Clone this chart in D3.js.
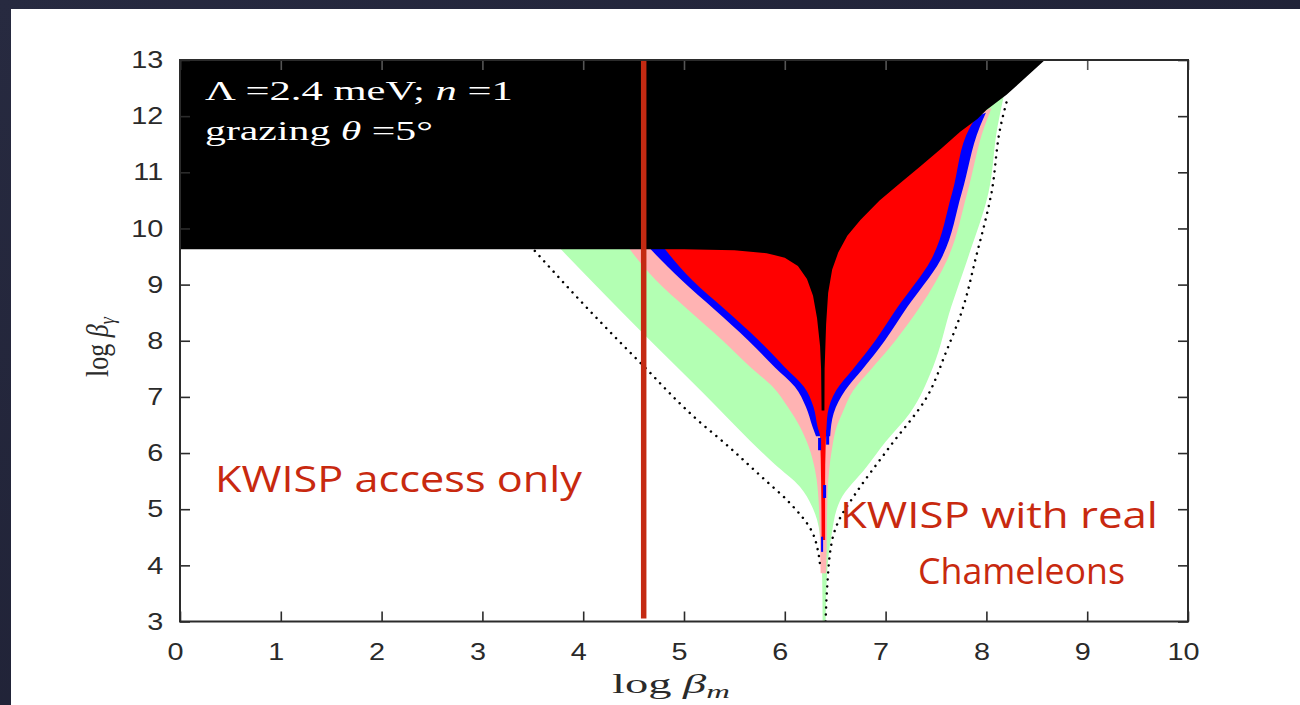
<!DOCTYPE html>
<html>
<head>
<meta charset="utf-8">
<script src="https://cdn.jsdelivr.net/npm/d3@7"></script>
<style>
  html, body { margin: 0; padding: 0; background: #1f2136; }
  svg { display: block; }
</style>
</head>
<body>
<svg id="chart" width="1300" height="705"></svg>
<script>
// Axis ticks
const xTicks = [0, 1, 2, 3, 4, 5, 6, 7, 8, 9, 10];
const yTicks = [3, 4, 5, 6, 7, 8, 9, 10, 11, 12, 13];

// Excluded regions in the (log beta_m, log beta_gamma) plane.
// Each band: left edge listed top -> bottom, right edge listed bottom -> top.
const greenLeft  = [[3.74, 9.7], [4.56, 8.19], [5.2, 7.05], [5.65, 6.23], [5.9, 5.8], [6.15, 5.4], [6.27, 5.05], [6.32, 4.81], [6.36, 4.3], [6.37, 3.86], [6.375, 3.0]];
const greenRight = [[6.405, 3.0], [6.42, 3.86], [6.46, 4.5], [6.55, 5.16], [6.81, 5.75], [7.0, 6.2], [7.24, 6.71], [7.47, 7.53], [7.65, 8.6], [7.81, 9.44], [8.02, 10.63], [8.11, 11.81], [8.17, 12.34]];

const pinkLeft  = [[4.43, 9.7], [4.72, 9.08], [5.04, 8.55], [5.38, 8.01], [5.66, 7.53], [5.88, 7.18], [6.03, 6.82], [6.15, 6.47], [6.24, 6.1], [6.30, 5.7], [6.34, 5.0], [6.35, 4.3], [6.355, 3.86]];
const pinkRight = [[6.41, 3.86], [6.415, 4.3], [6.42, 5.0], [6.44, 5.7], [6.47, 6.1], [6.52, 6.5], [6.57, 6.71], [6.68, 7.12], [6.85, 7.48], [7.1, 8.01], [7.34, 8.6], [7.61, 9.44], [7.81, 10.63], [7.98, 11.81], [8.05, 12.14]];

const blueLeft  = [[4.63, 9.7], [4.975, 9.08], [5.305, 8.55], [5.635, 8.01], [5.9, 7.53], [6.1, 7.18], [6.21, 6.82], [6.275, 6.47], [6.31, 6.3]];
const blueRight = [[6.45, 6.3], [6.485, 6.71], [6.6, 7.12], [6.765, 7.48], [6.995, 8.01], [7.215, 8.6], [7.545, 9.44], [7.755, 10.63], [7.935, 11.81], [7.995, 12.06]];

const redLeft  = [[4.78, 9.7], [5.08, 9.08], [5.41, 8.55], [5.74, 8.01], [6.0, 7.53], [6.19, 7.18], [6.285, 6.82], [6.325, 6.47], [6.35, 6.3], [6.36, 5.5], [6.365, 4.45]];
const redRight = [[6.40, 4.45], [6.40, 5.5], [6.405, 6.1], [6.415, 6.5], [6.425, 6.71], [6.51, 7.12], [6.67, 7.48], [6.9, 8.01], [7.12, 8.6], [7.45, 9.44], [7.66, 10.63], [7.84, 11.81], [7.92, 12.02]];

// Short blue segments along the narrow neck: [x0, x1, y0, y1]
const blueDashes = [[6.33, 6.36, 6.05, 6.27], [6.41, 6.44, 6.15, 6.41], [6.38, 6.41, 5.2, 5.43], [6.36, 6.38, 4.24, 4.51]];

// Fully excluded (black) region, with the narrow spike between the two red lobes
const blackRegion = [
  [0, 13], [8.58, 13], [8.2, 12.38], [8.0, 12.11], [7.91, 11.95],
  [7.74, 11.72], [7.55, 11.42], [7.34, 11.1], [7.14, 10.8], [6.94, 10.5],
  [6.75, 10.15], [6.62, 9.87], [6.53, 9.57], [6.47, 9.27], [6.43, 8.85],
  [6.41, 8.3], [6.395, 7.5], [6.393, 6.76], [6.365, 6.76], [6.36, 7.5],
  [6.35, 7.9], [6.32, 8.4], [6.28, 8.8], [6.22, 9.1], [6.13, 9.33],
  [6.0, 9.48], [5.82, 9.56], [5.5, 9.61], [5.0, 9.63], [0, 9.63]
];

// Dotted reference curves
const dotLeft  = [[3.52, 9.6], [4.03, 8.6], [4.56, 7.62], [5.19, 6.5], [5.33, 6.29], [5.78, 5.56], [6.05, 5.11], [6.27, 4.6], [6.33, 4.25], [6.35, 4.0]];
const dotRight = [[6.405, 3.0], [6.42, 3.6], [6.47, 4.45], [6.55, 4.85], [6.68, 5.22], [7.04, 6.11], [7.41, 7.0], [7.6, 7.8], [7.77, 8.6], [7.89, 9.44], [8.05, 10.63], [8.14, 11.81], [8.21, 12.32]];

// KWISP reach
const kwispLimit = 4.6;

// ---- layout ----
const svg = d3.select("#chart");
const W = 1300, H = 705;
const plot = { left: 180, right: 1188, top: 60, bottom: 621.5 };
const x = d3.scaleLinear().domain([0, 10]).range([plot.left, plot.right]);
const y = d3.scaleLinear().domain([3, 13]).range([plot.bottom, plot.top]);
const sx = 1.2; // horizontal text stretch

// backdrop
const defs = svg.append("defs");
const grad = defs.append("linearGradient").attr("id", "bg").attr("x1", 0).attr("y1", 0).attr("x2", 1).attr("y2", 1);
grad.append("stop").attr("offset", "0%").attr("stop-color", "#272a40");
grad.append("stop").attr("offset", "100%").attr("stop-color", "#1b1d30");
svg.append("rect").attr("width", W).attr("height", H).attr("fill", "url(#bg)");
svg.append("rect").attr("x", 11).attr("y", 9).attr("width", W - 11).attr("height", H - 9).attr("fill", "#ffffff");

defs.append("clipPath").attr("id", "plotClip")
  .append("rect").attr("x", plot.left).attr("y", plot.top)
  .attr("width", plot.right - plot.left).attr("height", plot.bottom - plot.top);

const g = svg.append("g").attr("clip-path", "url(#plotClip)");
const line = d3.line().x(d => x(d[0])).y(d => y(d[1]));
const edge = d3.line().x(d => x(d[0])).y(d => y(d[1])).curve(d3.curveMonotoneY);
const band = (left, right) => edge(left) + "L" + edge(right).slice(1) + "Z";

g.append("path").attr("d", band(greenLeft, greenRight)).attr("fill", "#b3ffb3");
g.append("path").attr("d", band(pinkLeft, pinkRight)).attr("fill", "#ffb3b3");
g.append("path").attr("d", band(blueLeft, blueRight)).attr("fill", "#0000ff");
g.append("path").attr("d", band(redLeft, redRight)).attr("fill", "#ff0000");
g.selectAll("rect.dash").data(blueDashes).join("rect").attr("class", "dash")
  .attr("x", d => x(d[0])).attr("width", d => x(d[1]) - x(d[0]))
  .attr("y", d => y(d[3])).attr("height", d => y(d[2]) - y(d[3]))
  .attr("fill", "#0000ff");
g.append("path").attr("d", line(blackRegion) + "Z").attr("fill", "#000000");

// dotted curves
[dotLeft, dotRight].forEach(pts => {
  g.append("path").attr("d", edge(pts)).attr("fill", "none")
    .attr("stroke", "#000").attr("stroke-width", 2.5)
    .attr("stroke-linecap", "round").attr("stroke-dasharray", "0.01 7");
});

// KWISP limit
g.append("line")
  .attr("x1", x(kwispLimit)).attr("x2", x(kwispLimit))
  .attr("y1", plot.top).attr("y2", plot.bottom - 3)
  .attr("stroke", "#c42a12").attr("stroke-width", 5.5);

// ---- axes ----
const axisColor = "#2b2b2b";
const fontSans = "'Liberation Sans', Arial, Helvetica, sans-serif";
const fontSerif = "'Liberation Serif', 'Times New Roman', serif";

const ax = svg.append("g").attr("transform", `translate(0,${plot.bottom})`)
  .call(d3.axisBottom(x).tickValues(xTicks).tickSize(-10).tickPadding(21).tickFormat(d3.format("d")));
const ay = svg.append("g").attr("transform", `translate(${plot.left},0)`)
  .call(d3.axisLeft(y).tickValues(yTicks).tickSize(-10).tickPadding(14).tickFormat(d3.format("d")));
const axT = svg.append("g").attr("transform", `translate(0,${plot.top})`)
  .call(d3.axisTop(x).tickValues(xTicks).tickSize(-10).tickFormat(""));
const ayR = svg.append("g").attr("transform", `translate(${plot.right},0)`)
  .call(d3.axisRight(y).tickValues(yTicks).tickSize(-10).tickFormat(""));

[ax, ay, axT, ayR].forEach(a => {
  a.select(".domain").remove();
  a.selectAll(".tick line").attr("stroke", axisColor).attr("stroke-width", 1.6);
});
axT.selectAll(".tick line").attr("stroke", "#555");
[ax, ay].forEach(a => a.selectAll(".tick text")
  .attr("fill", "#2a2a2a").attr("font-family", fontSans).attr("font-size", 24));
ax.selectAll(".tick text").attr("transform", `translate(-5,0) scale(${sx},1)`);
ay.selectAll(".tick text").attr("transform", `scale(${sx},1)`);

svg.append("rect")
  .attr("x", plot.left).attr("y", plot.top)
  .attr("width", plot.right - plot.left).attr("height", plot.bottom - plot.top)
  .attr("fill", "none").attr("stroke", axisColor).attr("stroke-width", 2);

// ---- text ----
// place a text at (tx, ty) and stretch it horizontally to the given width
function fitText(sel, tx, ty, width) {
  const w = sel.node().getComputedTextLength();
  sel.attr("transform", `translate(${tx},${ty}) scale(${width / w},1)`);
  return sel;
}

const info1 = svg.append("text").attr("font-family", fontSerif).attr("font-size", 28).attr("fill", "#fff");
info1.append("tspan").text("Λ =2.4 meV; ");
info1.append("tspan").attr("font-style", "italic").text("n");
info1.append("tspan").text(" =1");
fitText(info1, 205, 100, 308);

const info2 = svg.append("text").attr("font-family", fontSerif).attr("font-size", 28).attr("fill", "#fff");
info2.append("tspan").text("grazing ");
info2.append("tspan").attr("font-style", "italic").text("θ");
info2.append("tspan").text(" =5°");
fitText(info2, 205, 140, 228);

const xl = svg.append("text").attr("font-family", fontSerif).attr("font-size", 27).attr("fill", "#2a2a2a");
xl.append("tspan").text("log ");
xl.append("tspan").attr("font-style", "italic").text("β");
xl.append("tspan").attr("font-style", "italic").attr("font-size", 19).attr("dy", 5).text("m");
fitText(xl, 612, 693, 118);

const yl = svg.append("text").attr("font-family", fontSerif).attr("font-size", 26).attr("fill", "#2a2a2a")
  .attr("text-anchor", "middle");
yl.append("tspan").text("log ");
yl.append("tspan").attr("font-style", "italic").text("β");
yl.append("tspan").attr("font-style", "italic").attr("font-size", 18).attr("dy", 5).text("γ");
yl.attr("transform", `translate(108,347) scale(${sx},1) rotate(-90)`);

const redText = "#c8290f";
const fontNote = "'Open Sans', 'Noto Sans', sans-serif";
const note = (t, tx, ty, w) => fitText(
  svg.append("text").attr("font-family", fontNote).attr("font-size", 36).attr("fill", redText).text(t), tx, ty, w);
note("KWISP access only", 215, 492, 367);
note("KWISP with real", 840, 528, 318);
note("Chameleons", 918, 584, 207);
</script>
</body>
</html>
